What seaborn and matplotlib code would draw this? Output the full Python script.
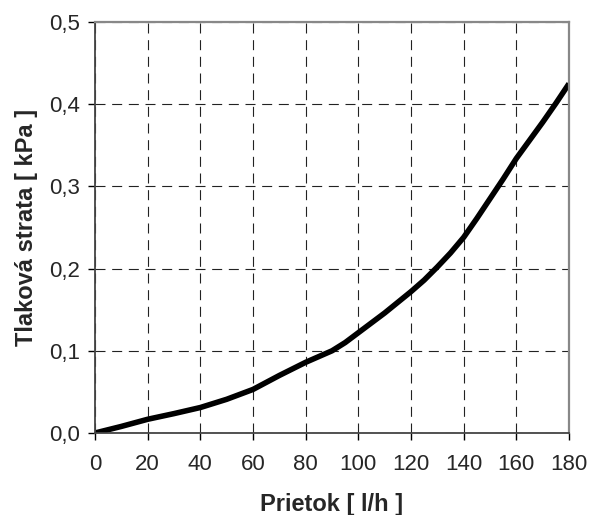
import matplotlib
matplotlib.use("Agg")
import matplotlib.pyplot as plt
import seaborn as sns
import pandas as pd
from matplotlib.ticker import FuncFormatter

flow = [0, 10, 20, 30, 40, 50, 60, 70, 80, 85, 90, 95, 100, 110, 120, 125, 130, 135,
        140, 145, 150, 155, 160, 165, 170, 175, 180]
loss = [0, 0.008, 0.0167, 0.0236, 0.031, 0.041, 0.053, 0.070, 0.086, 0.093, 0.100,
        0.110, 0.122, 0.146, 0.172, 0.186, 0.202, 0.219, 0.238, 0.261, 0.285, 0.309,
        0.334, 0.356, 0.378, 0.401, 0.425]
x_ticks = [0, 20, 40, 60, 80, 100, 120, 140, 160, 180]
y_ticks = [0.0, 0.1, 0.2, 0.3, 0.4, 0.5]

sns.set_style("white")
plt.rcParams['font.family'] = ['Liberation Sans', 'DejaVu Sans']

df = pd.DataFrame({"Prietok": flow, "Strata": loss})

fig = plt.figure(figsize=(5.89, 5.15), dpi=100)
ax = fig.add_axes([95/589, 82/515, 474/589, 411/515])
sns.lineplot(data=df, x="Prietok", y="Strata", ax=ax, color="black", linewidth=4,
             solid_joinstyle="round", solid_capstyle="butt")

ax.set_xlim(0, 180)
ax.set_ylim(0, 0.5)
ax.set_xticks(x_ticks)
ax.set_yticks(y_ticks)
ax.yaxis.set_major_formatter(FuncFormatter(lambda v, p: f"{v:.1f}".replace(".", ",")))
ax.grid(True, linestyle=(0, (9, 6)), color="#222222", linewidth=0.8)
ax.set_axisbelow(True)
for s in ["top", "right"]:
    ax.spines[s].set_color("#888888")
    ax.spines[s].set_linewidth(1.6)
for s in ["left", "bottom"]:
    ax.spines[s].set_color("#444444")
    ax.spines[s].set_linewidth(1.3)
ax.tick_params(axis="both", which="major", direction="out", length=5, width=1,
               color="black", labelsize=16, bottom=True, left=True)
ax.tick_params(axis="x", pad=10)
ax.tick_params(axis="y", pad=6)
ax.set_xlabel("Prietok [ l/h ]", fontsize=17, fontweight="bold", labelpad=13)
ax.set_ylabel("Tlaková strata [ kPa ]", fontsize=17, fontweight="bold", labelpad=8)

fig.savefig("out.png", dpi=100)
